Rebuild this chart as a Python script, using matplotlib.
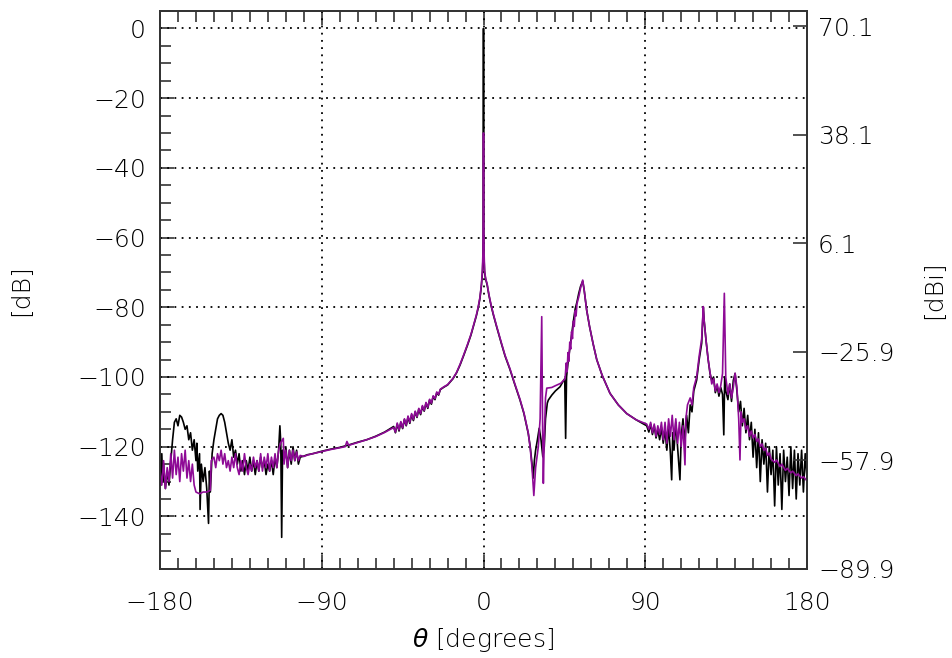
import numpy as np
import matplotlib.pyplot as plt
from matplotlib.ticker import MultipleLocator, FixedLocator

plt.rcParams['font.family'] = ['DejaVu Sans']
plt.rcParams['font.weight'] = 'light'
plt.rcParams['axes.labelweight'] = 'light'
plt.rcParams['mathtext.fontset'] = 'custom'
plt.rcParams['mathtext.it'] = 'DejaVu Sans:italic:light'
plt.rcParams['mathtext.rm'] = 'DejaVu Sans:light'

# black trace: (theta [deg], level [dB])
black_pts = [
    (-180, -124), (-179.5, -131), (-179, -122), (-178.5, -130), (-178, -125), (-177, -132),
    (-176, -127), (-175, -131), (-174, -124), (-173, -118), (-172, -113), (-171, -112),
    (-170, -114), (-169, -111), (-168, -111.5), (-167, -113), (-166, -115), (-165, -114),
    (-164, -118), (-163, -116), (-162, -121), (-161, -118), (-160, -124), (-159.5, -119),
    (-159, -127), (-158, -122), (-157.7, -138), (-157, -125), (-156, -130), (-155, -126),
    (-154, -132), (-153, -142), (-152.5, -127), (-152, -133), (-151, -122), (-150, -118),
    (-149, -115), (-148, -112), (-147, -111), (-146, -110.5), (-145, -111), (-144, -113),
    (-143, -116), (-142, -119), (-141, -121), (-140, -118), (-139, -123), (-138, -121),
    (-137, -125), (-136, -122), (-135, -127), (-134, -124), (-133, -128), (-132, -124),
    (-131, -127), (-130, -123), (-129, -127), (-128, -124), (-127, -128), (-126, -124),
    (-125, -127), (-124, -123), (-123, -126), (-122, -124), (-121, -128), (-120, -125),
    (-119, -127), (-118, -124), (-117, -128), (-116, -123), (-115, -126), (-114, -121),
    (-113.3, -114), (-112.8, -119), (-112.3, -146), (-111.8, -121), (-111, -124),
    (-110, -120), (-109, -126), (-108, -121), (-107, -125), (-106, -120), (-105, -124),
    (-104, -121), (-103, -125), (-102, -123), (-100, -122.7), (-98, -122.3), (-95, -122),
    (-90, -121.3), (-85, -120.7), (-80, -120.2), (-75, -119.5), (-70, -118.7), (-65, -118),
    (-60, -117), (-55, -115.8), (-50, -114.2), (-49, -116), (-48, -113.5), (-47, -115.5),
    (-46, -113), (-45, -114.8), (-44, -112.2), (-43, -114), (-42, -111.5), (-41, -113.3),
    (-40, -110.8), (-39, -112.5), (-38, -110), (-37, -111.6), (-36, -109.2), (-35, -110.8),
    (-34, -108.5), (-33, -109.8), (-32, -107.5), (-31, -109), (-30, -106.6), (-29, -107.8),
    (-28, -105.6), (-27, -106.5), (-26, -104.5), (-25, -105.2), (-24, -103.6), (-22, -102.9),
    (-20, -102.3), (-17, -100.5), (-15, -98.8), (-13, -96.5), (-11, -93.8), (-9, -91),
    (-7, -88), (-5.5, -85.3), (-4, -82.5), (-3, -80.3), (-2, -77.5), (-1.2, -74),
    (-0.6, -70), (-0.3, -66), (-0.1, -55), (0, 0), (0.1, -55), (0.3, -66), (0.6, -70),
    (1.2, -72), (2, -73.5), (3, -76.5), (4.2, -79.5), (5.5, -82.2), (7.3, -85.6), (10, -90.5),
    (12, -94), (14.7, -97.8), (17, -101.5), (20.3, -106.6), (22.5, -110.5), (24.9, -116.2),
    (26, -120), (27, -125), (27.7, -129), (28.3, -124), (29, -121), (30, -118), (31, -114.7),
    (32, -118), (33, -122.9), (33.8, -120), (34.5, -112), (35.5, -107.5), (36.1, -106.6),
    (38, -105.2), (40, -104), (42.6, -102.8), (44, -101.5), (45.2, -100.5), (45.7, -117.6),
    (46.2, -100), (47, -96), (48, -92), (49, -88), (50, -84), (51, -80.5), (52, -78.5),
    (53, -76), (54, -74), (55.2, -72.5), (56, -75), (57.4, -80.8), (59, -85.5), (61, -90.5),
    (63, -95), (66, -99.5), (70.4, -104.7), (75, -108), (79.7, -110.5), (85, -112.3),
    (90.8, -114), (92, -115.8), (93, -113.5), (94, -116.5), (95, -114), (96, -117.5),
    (97, -115), (98, -118), (99, -114.5), (100, -119), (101, -115), (102, -121), (103, -114),
    (104, -122), (104.7, -129.5), (105.3, -116), (106, -121), (107, -113), (108, -120),
    (109.3, -129.5), (110, -117), (111, -112), (112, -119), (113, -111), (114, -116),
    (115, -108), (116, -110), (117, -104), (118.6, -100.9), (120, -95), (121.4, -90.3),
    (122.3, -80), (122.8, -84), (123.8, -89.4), (125, -95), (126, -98.9), (127, -101),
    (128, -100), (129, -104.5), (130, -102.5), (131, -105.5), (132, -103), (133, -105),
    (133.7, -116.6), (134.2, -100), (134.8, -104), (136, -106.5), (137, -102), (138, -107),
    (139, -101), (140, -99), (141, -104), (142, -110), (143, -107), (144, -114), (145, -109),
    (146, -116), (147, -111), (148, -118), (149, -113), (150, -123), (151, -115), (152, -126),
    (153, -116), (154, -130), (155, -118), (156, -125), (157, -119), (158, -133), (159, -120),
    (160, -128), (161, -121), (162, -137), (163, -120), (164, -131), (165, -122), (166, -138),
    (167, -121), (168, -130), (169, -123), (170, -134), (171, -120), (172, -132), (173, -121),
    (174, -135), (175, -122), (176, -131), (177, -121), (178, -133), (179, -122), (180, -129),
]

# purple trace: (theta [deg], level [dB])
purple_pts = [
    (-180, -127), (-179, -131), (-178, -124), (-177, -132), (-176, -126), (-175, -130),
    (-174, -122), (-173, -129), (-172, -121), (-171, -128), (-170, -123), (-169, -130),
    (-168, -122), (-167, -127), (-166, -121), (-165, -129), (-164, -124), (-163, -130),
    (-162, -125), (-161, -131), (-160, -133), (-158, -133.5), (-156, -133), (-154, -133),
    (-152, -132.5), (-151.5, -124), (-150, -123), (-149, -126), (-148, -122), (-147, -124),
    (-146, -121), (-145, -125), (-144, -122), (-143, -126), (-142, -124), (-141, -127),
    (-140, -123), (-139, -126), (-138, -122), (-137, -126), (-136, -128), (-135, -124),
    (-134, -127), (-133, -122), (-132, -126), (-131, -128), (-130, -125), (-129, -127),
    (-128, -123), (-127, -126), (-126, -124), (-125, -127), (-124, -122), (-123, -127),
    (-122, -123), (-121, -126), (-120, -122), (-119, -127), (-118, -123), (-117, -126),
    (-116, -122), (-115, -126), (-114, -121), (-113, -119), (-111.4, -117.6), (-111, -125),
    (-110, -121), (-109, -126), (-108, -121), (-107, -124), (-106, -121), (-105, -124),
    (-104, -121.5), (-103, -124), (-102, -122.5), (-100, -122.8), (-98, -122.4), (-95, -122),
    (-90, -121.4), (-85, -120.8), (-80, -120.3), (-77, -120), (-76, -118.5), (-75, -119.6),
    (-70, -118.8), (-65, -118), (-60, -117.1), (-55, -115.9), (-50, -114.5), (-49, -115.8),
    (-48, -113.2), (-47, -115.2), (-46, -112.8), (-45, -114.6), (-44, -112), (-43, -113.8),
    (-42, -111.2), (-41, -113), (-40, -110.5), (-39, -112.2), (-38, -109.8), (-37, -111.4),
    (-36, -109), (-35, -110.5), (-34, -108.2), (-33, -109.6), (-32, -107.3), (-31, -108.7),
    (-30, -106.4), (-29, -107.5), (-28, -105.4), (-27, -106.2), (-26, -104.3), (-25, -105),
    (-24, -103.5), (-22, -102.8), (-20, -102.2), (-17, -100.4), (-15, -98.7), (-13, -96.3),
    (-11, -93.6), (-9, -90.8), (-7, -87.8), (-5.5, -85.1), (-4, -82.3), (-3, -80),
    (-2, -77.2), (-1.2, -73.6), (-0.6, -69.5), (-0.3, -64), (-0.12, -48), (0, -30),
    (0.12, -48), (0.3, -64), (0.6, -69.5), (1.2, -71.8), (2, -73.2), (3, -76.3), (4.2, -79.3),
    (5.5, -82), (7.3, -85.4), (10, -90.3), (12, -93.8), (14.7, -97.6), (17, -101.3),
    (20.3, -106.4), (22.5, -110.3), (24.9, -116), (26, -120.5), (27, -126), (28, -134),
    (29, -126), (29.5, -124), (30.5, -120), (31.5, -112), (32.4, -82.7), (32.9, -115),
    (33.3, -130.5), (33.8, -118), (34.5, -106), (35.2, -103.2), (38, -103), (40, -102.5),
    (43, -101.8), (45.4, -100.5), (46, -96), (46.5, -98.5), (47, -93), (47.5, -95.5),
    (48, -90), (48.5, -92), (49, -87), (49.5, -89), (50, -84), (50.5, -85.5), (51, -81),
    (51.5, -82.5), (52, -79), (53, -77), (54, -74.5), (55.2, -72.2), (56, -75), (57.4, -80.8),
    (59, -85.5), (61, -90.5), (63, -95), (66, -99.5), (70.4, -104.7), (75, -108),
    (79.7, -110.5), (85, -112.3), (90.8, -113.5), (92, -115), (93, -113), (94, -116),
    (95, -113.5), (96, -117), (97, -114), (98, -116.5), (99, -113), (100, -118), (101, -113),
    (102, -119), (103, -112), (104, -117), (105, -111), (106, -118), (107, -112), (108, -119),
    (109, -113), (110, -120), (111, -114), (112.1, -125.2), (112.6, -112), (113.5, -108),
    (115, -106), (116, -108), (117, -103), (118.6, -100), (120, -94), (121.4, -89),
    (122.3, -79.8), (122.8, -84), (123.8, -89.4), (125, -95), (126, -98.5), (127, -102),
    (128, -100.5), (129, -104), (130, -102), (131, -104.5), (132, -102.5), (133, -99),
    (134, -76), (134.8, -100), (135.5, -103), (136, -105), (137, -102), (138, -106),
    (139, -103), (140, -98.9), (141, -103), (142, -112), (142.7, -123.8), (143.3, -110),
    (144, -113), (145, -112), (146, -115), (147, -114), (148, -117), (149, -115.5),
    (150, -117.5), (151, -116.5), (152, -118.5), (153, -117.8), (154, -120), (155, -119.2),
    (156, -121), (157, -120.4), (158, -122.5), (159, -121.8), (160, -123.5), (162, -124.5),
    (163, -123.8), (165, -125.7), (166, -125), (168, -126.8), (169, -126.2), (171, -127.5),
    (172, -127), (174, -128.3), (175, -127.8), (177, -129), (178, -128.6), (180, -129.8),
]

left_ticks = [0, -20, -40, -60, -80, -100, -120, -140]
right_ticks = [70.1, 38.1, 6.1, -25.9, -57.9, -89.9]
right_labels = ['70.1', '38.1', '6.1', '\u221225.9', '\u221257.9', '\u221289.9']
x_ticks = [-180, -90, 0, 90, 180]

bt, bd = np.array(black_pts).T
pt, pd_ = np.array(purple_pts).T

fig = plt.figure(figsize=(9.53, 6.58), dpi=100)
ax = fig.add_axes([0.1679, 0.1357, 0.6789, 0.8476])

ax.plot(bt, bd, color='black', lw=1.2, zorder=3)
ax.plot(pt, pd_, color='#8e0a96', lw=1.2, zorder=4)

ax.set_xlim(-180, 180)
ax.set_ylim(-155, 5)
ax.xaxis.set_major_locator(FixedLocator(x_ticks))
ax.xaxis.set_minor_locator(MultipleLocator(10))
ax.yaxis.set_major_locator(FixedLocator(left_ticks))
ax.yaxis.set_minor_locator(MultipleLocator(5))

# dotted grid
for g in [-90, 0, 90]:
    ax.axvline(g, color='black', lw=1.3, ls=(0, (1, 3)), zorder=2)
for g in left_ticks:
    ax.axhline(g, color='black', lw=1.3, ls=(0, (1, 3)), zorder=2)

ax.tick_params(axis='both', which='both', direction='in', color='#333333', width=1.2,
               top=True, right=False, labelsize=18)
ax.tick_params(axis='both', which='major', length=10)
ax.tick_params(axis='both', which='minor', length=8)
ax.tick_params(axis='x', pad=16)
ax.tick_params(axis='y', pad=10)
for s in ax.spines.values():
    s.set_color('#333333')
    s.set_linewidth(1.3)

ax.set_ylabel('[dB]', fontsize=18, labelpad=32)
ax.set_xlabel(r'$\theta$ [degrees]', fontsize=18, labelpad=8)

ax2 = ax.twinx()
ax2.set_ylim(-89.9, 74.6)
ax2.yaxis.set_major_locator(FixedLocator(right_ticks))
ax2.set_yticklabels(right_labels)
ax2.tick_params(axis='y', direction='in', length=10, width=1.2, color='#333333',
                labelsize=18, pad=8)
ax2.set_ylabel('[dBi]', fontsize=18, rotation=90, labelpad=20)
for s in ax2.spines.values():
    s.set_color('#333333')
    s.set_linewidth(1.3)

fig.savefig('out.png', dpi=100)
